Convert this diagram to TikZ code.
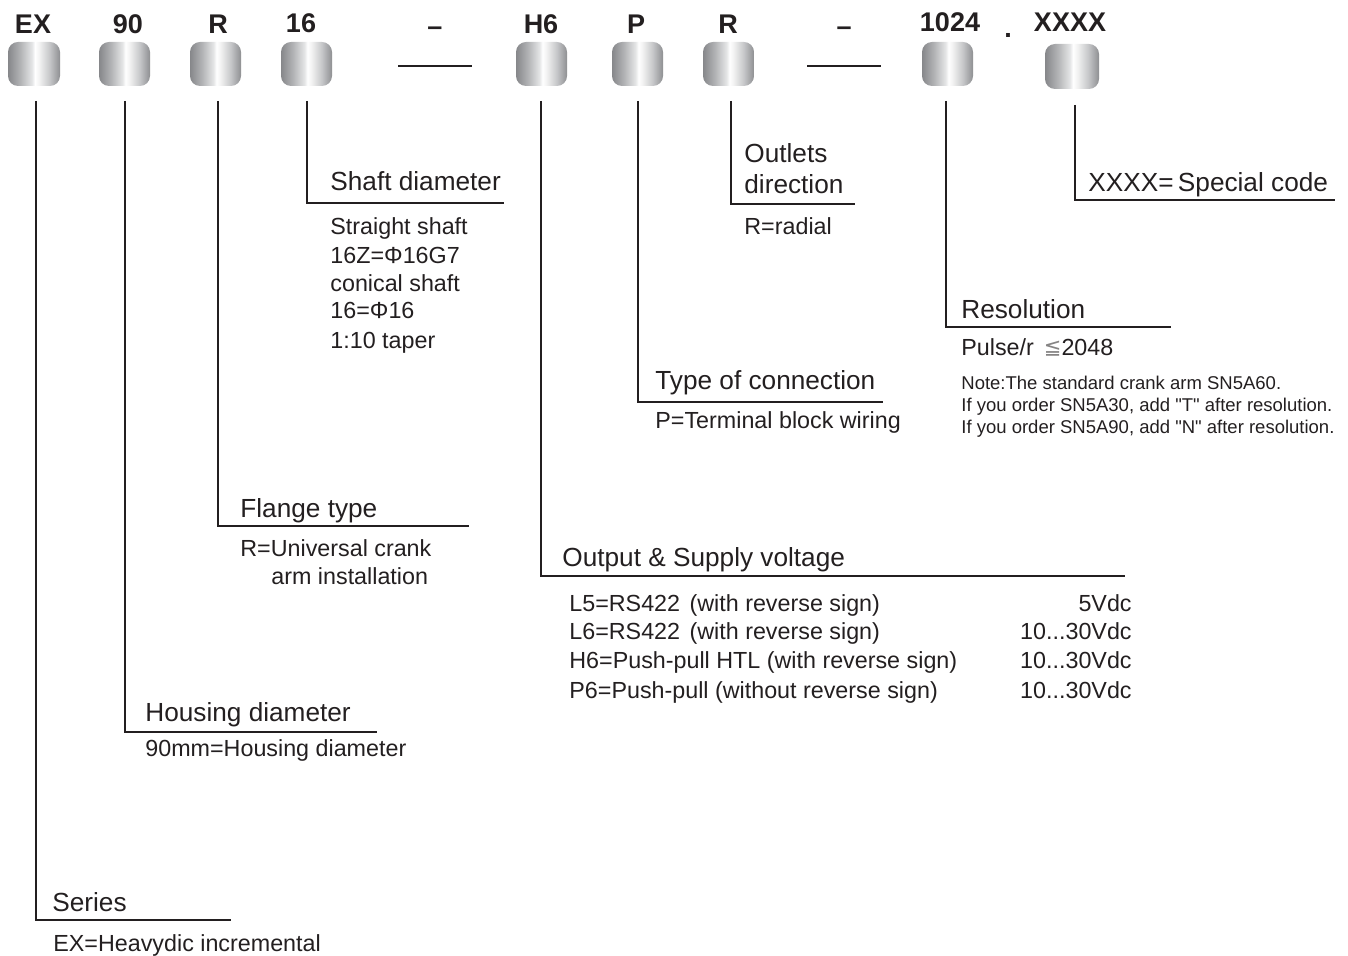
\documentclass[tikz,border=0pt]{standalone}
\usepackage{fontspec}
\setmainfont{Liberation Sans}
\newfontfamily\djv{DejaVu Sans}
\definecolor{ink}{HTML}{231F20}
\definecolor{m1}{HTML}{86878A}
\definecolor{m2}{HTML}{B3B4B6}
\definecolor{m3}{HTML}{E4E5E6}
\definecolor{m4}{HTML}{F2F2F2}
\definecolor{m5}{HTML}{C6C7C9}
\definecolor{m6}{HTML}{8E8F92}
\pgfdeclarehorizontalshading{metal}{100bp}{color(0bp)=(m1); color(25bp)=(m1); color(37bp)=(m2); color(48bp)=(m3); color(51bp)=(white); color(55bp)=(m4); color(65bp)=(m5); color(75bp)=(m6); color(100bp)=(m6)}
\begin{document}
\begin{tikzpicture}[x=0.5pt,y=-0.5pt,
  cell/.style={shade, shading=metal, rounded corners=5pt, minimum width=26pt, minimum height=22pt, inner sep=0pt, draw=none},
  code/.style={font=\bfseries\fontsize{13.5}{16}\selectfont, text=ink, anchor=base, inner sep=0pt},
  ttl/.style={font=\fontsize{13.1}{15}\selectfont, text=ink, anchor=base west, inner sep=0pt},
  dsc/.style={font=\fontsize{11.65}{14}\selectfont, text=ink, anchor=base west, inner sep=0pt},
  dscr/.style={dsc, anchor=base east},
  notetxt/.style={font=\fontsize{9.25}{11}\selectfont, text=ink, anchor=base west, inner sep=0pt},
  ln/.style={draw=ink, line width=1pt}]
\useasboundingbox (0,0) rectangle (1348,956);

% code boxes
\node[cell] (bEX) at (34,64) {};
\node[cell, minimum width=25.5pt] (b90) at (124.5,64) {};
\node[cell, minimum width=25.5pt] (bR) at (215.5,64) {};
\node[cell, minimum width=25.5pt] (b16) at (306.5,64) {};
\node[cell, minimum width=25.5pt] (bH6) at (541.5,64) {};
\node[cell, minimum width=25.5pt] (bP) at (637.5,64) {};
\node[cell, minimum width=25.5pt] (bR2) at (728.5,64) {};
\node[cell, minimum width=25.5pt] (b1024) at (947.5,64) {};
\node[cell, minimum width=27pt, minimum height=22.5pt] (bX) at (1072,66.5) {};

% code labels
\node[code] (lEX) at (33,34) {EX};
\node[code] (l90) at (128,34) {90};
\node[code] (lR) at (218,34) {R};
\node[code] (l16) at (301,33) {16};
\node[code] (ld1) at (435,36) {–};
\node[code] (lH6) at (541,34) {H6};
\node[code] (lP) at (636,34) {P};
\node[code] (lR2) at (728,34) {R};
\node[code] (ld2) at (844,36) {–};
\node[code] (l1024) at (950,32) {1024};
\node[code] (ldot) at (1008,38) {.};
\node[code] (lX) at (1070,32) {XXXX};

% separator lines
\coordinate (d1a) at (398,66); \coordinate (d1b) at (472,66);
\coordinate (d2a) at (807,66); \coordinate (d2b) at (881,66);
\draw[ln] (d1a) -- (d1b);
\draw[ln] (d2a) -- (d2b);

% connector start / end points
\coordinate (sEX) at (36,101);   \coordinate (eEX) at (231,920);
\coordinate (s90) at (125,101);  \coordinate (e90) at (377,732);
\coordinate (sR) at (218,101);   \coordinate (eR) at (469,526);
\coordinate (s16) at (307,101);  \coordinate (e16) at (504,203);
\coordinate (sH6) at (541,101);  \coordinate (eH6) at (1125,576);
\coordinate (sP) at (638,101);   \coordinate (eP) at (883,402);
\coordinate (sR2) at (731,101);  \coordinate (eR2) at (855,204);
\coordinate (s1024) at (946,101);\coordinate (e1024) at (1171,327);
\coordinate (sX) at (1075,105);  \coordinate (eX) at (1335,200);

\draw[ln] (sEX) |- (eEX);
\draw[ln] (s90) |- (e90);
\draw[ln] (sR) |- (eR);
\draw[ln] (s16) |- (e16);
\draw[ln] (sH6) |- (eH6);
\draw[ln] (sP) |- (eP);
\draw[ln] (sR2) |- (eR2);
\draw[ln] (s1024) |- (e1024);
\draw[ln] (sX) |- (eX);

% titles
\node[ttl] (tEX) at (52,911) {Series};
\node[ttl] (t90) at (145,721) {Housing diameter};
\node[ttl] (tR) at (240,517) {Flange type};
\node[ttl] (t16) at (330,191) {Shaft diameter};
\node[ttl] (tH6) at (562,567) {Output \& Supply voltage};
\node[ttl] (tP) at (655,390) {Type of connection};
\node[ttl] (tR2a) at (744,163) {Outlets};
\node[ttl] (tR2b) at (744,194) {direction};
\node[ttl] (t1024) at (961,319) {Resolution};
\node[ttl] (tX) at (1088,192) {XXXX=\,Special code};

% descriptions
\node[dsc] (dEX) at (53,951) {EX=Heavydic incremental};
\node[dsc] (d90) at (145,756) {90mm=Housing diameter};
\node[dsc] (dRa) at (240,556) {R=Universal crank};
\node[dsc] (dRb) at (271,584) {arm installation};
\node[dsc] (d16a) at (330,235) {Straight shaft};
\node[dsc] (d16b) at (330,264) {16Z=Φ16G7};
\node[dsc] (d16c) at (330,292) {conical shaft};
\node[dsc] (d16d) at (330,319) {16=Φ16};
\node[dsc] (d16e) at (330,349) {1:10 taper};
\node[dsc] (dR2) at (744,235) {R=radial};
\node[dsc] (d1024) at (961,356) {Pulse/r\hspace{5pt}{\djv\fontsize{10.5}{12}\selectfont\color{ink!55}\raisebox{0.5pt}{≦}}2048};
\node[notetxt] (n1) at (961,389.5) {Note:The standard crank arm SN5A60.};
\node[notetxt] (n2) at (961,411.5) {If you order SN5A30, add \textquotedbl T\textquotedbl\ after resolution.};
\node[notetxt] (n3) at (961,433.5) {If you order SN5A90, add \textquotedbl N\textquotedbl\ after resolution.};
\node[dsc] (dP) at (655,429) {P=Terminal block wiring};
\node[dsc] (o1) at (569,611) {L5=RS422\hspace{1.5pt} (with reverse sign)};
\node[dsc] (o2) at (569,639) {L6=RS422\hspace{1.5pt} (with reverse sign)};
\node[dsc] (o3) at (569,668) {H6=Push-pull HTL (with reverse sign)};
\node[dsc] (o4) at (569,698) {P6=Push-pull (without reverse sign)};
\node[dscr] (v1) at (1132,611) {5Vdc};
\node[dscr] (v2) at (1132,639) {10...30Vdc};
\node[dscr] (v3) at (1132,668) {10...30Vdc};
\node[dscr] (v4) at (1132,698) {10...30Vdc};
\end{tikzpicture}
\end{document}
